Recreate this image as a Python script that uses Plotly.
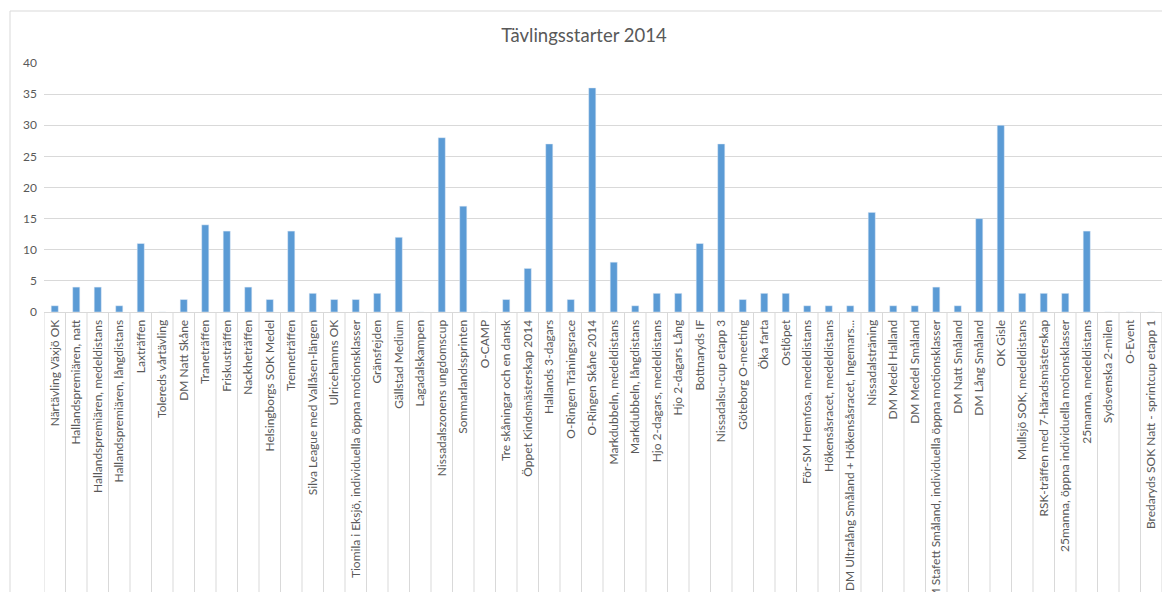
import plotly.graph_objects as go

categories = [
    "Närtävling Växjö OK",
    "Hallandspremiären, natt",
    "Hallandspremiären, medeldistans",
    "Hallandspremiären, långdistans",
    "Laxträffen",
    "Tolereds vårtävling",
    "DM Natt Skåne",
    "Traneträffen",
    "Friskusträffen",
    "Nackheträffen",
    "Helsingborgs SOK Medel",
    "Trenneträffen",
    "Silva League med Vallåsen-längen",
    "Ulricehamns OK",
    "Tiomila i Eksjö, individuella öppna motionsklasser",
    "Gränsfejden",
    "Gällstad Medium",
    "Lagadalskampen",
    "Nissadalszonens ungdomscup",
    "Sommarlandssprinten",
    "O-CAMP",
    "Tre skåningar och en dansk",
    "Öppet Kindsmästerskap 2014",
    "Hallands 3-dagars",
    "O-Ringen Träningsrace",
    "O-Ringen Skåne 2014",
    "Markdubbeln, medeldistans",
    "Markdubbeln, långdistans",
    "Hjo 2-dagars, medeldistans",
    "Hjo 2-dagars Lång",
    "Bottnaryds IF",
    "Nissadalsu-cup etapp 3",
    "Göteborg O-meeting",
    "Öka farta",
    "Ostlöpet",
    "För-SM Hemfosa, medeldistans",
    "Hökensåsracet, medeldistans",
    "DM Ultralång Småland + Hökensåsracet, Ingemars...",
    "Nissadalsträning",
    "DM Medel Halland",
    "DM Medel Småland",
    "DM Stafett Småland, individuella öppna motionsklasser",
    "DM Natt Småland",
    "DM Lång Småland",
    "OK Gisle",
    "Mullsjö SOK, medeldistans",
    "RSK-träffen med 7-häradsmästerskap",
    "25manna, öppna individuella motionsklasser",
    "25manna, medeldistans",
    "Sydsvenska 2-milen",
    "O-Event",
    "Bredaryds SOK Natt - sprintcup etapp 1",
]

values = [1, 4, 4, 1, 11, 0, 2, 14, 13, 4, 2, 13, 3, 2, 2, 3, 12, 0, 28, 17,
          0, 2, 7, 27, 2, 36, 8, 1, 3, 3, 11, 27, 2, 3, 3, 1, 1, 1, 16, 1,
          1, 4, 1, 15, 30, 3, 3, 3, 13, 0, 0, 0]

y_ticks = [0, 5, 10, 15, 20, 25, 30, 35, 40]
title_text = "Tävlingsstarter 2014"

# page body has an 8px default margin, so the figure is offset by (8, 8)
OFF = 8
W, H = 1170 - OFF, 592 - OFF
L, R, T, B = 44 - OFF, 8, 63 - OFF, 280
pw, ph = W - L - R, H - T - B

FONT = "Lato"
GREY = "#595959"
GRID = "#D9D9D9"

fig = go.Figure(
    go.Bar(
        x=list(range(len(categories))),
        y=values,
        marker=dict(color="#5B9BD5"),
        width=0.33,
    )
)

shapes = []
# category separators below the axis
for i in range(len(categories) + 1):
    shapes.append(dict(type="line", xref="x", yref="paper",
                       x0=i - 0.5, x1=i - 0.5, y0=0, y1=-(B + 5) / ph,
                       line=dict(color=GRID, width=1), layer="below"))
# chart area border (top and left)
bx = (10 - OFF - L) / pw
by = (H - B - (11 - OFF)) / ph
shapes.append(dict(type="line", xref="paper", yref="paper", x0=bx, x1=(W + 5 - L) / pw,
                   y0=by, y1=by, line=dict(color=GRID, width=1)))
shapes.append(dict(type="line", xref="paper", yref="paper", x0=bx, x1=bx,
                   y0=by, y1=-(B + 5) / ph, line=dict(color=GRID, width=1)))

fig.update_layout(
    width=W, height=H,
    margin=dict(l=L, r=R, t=T, b=B, pad=0, autoexpand=False),
    paper_bgcolor="white", plot_bgcolor="white",
    showlegend=False,
    bargap=0.67,
    title=dict(text=title_text, x=(584 - OFF) / W, y=1 - (36 - OFF) / H,
               xanchor="center", yanchor="middle",
               font=dict(family=FONT, size=18.5, color=GREY)),
    xaxis=dict(
        range=[-0.5, len(categories) - 0.5],
        tickmode="array",
        tickvals=list(range(len(categories))),
        ticktext=categories,
        tickangle=-90,
        ticks="",
        showgrid=False,
        showline=True, linecolor=GRID, linewidth=1,
        zeroline=False,
        automargin=False,
        tickfont=dict(family=FONT, size=12, color=GREY),
        ticklabelstandoff=2,
    ),
    yaxis=dict(
        range=[0, 40],
        tickmode="array",
        tickvals=y_ticks,
        showgrid=True, gridcolor=GRID, gridwidth=1,
        zeroline=False, showline=False,
        ticks="",
        automargin=False,
        tickfont=dict(family=FONT, size=12, color=GREY),
        ticklabelstandoff=6,
    ),
    shapes=shapes,
)

fig.write_html("out.html")
